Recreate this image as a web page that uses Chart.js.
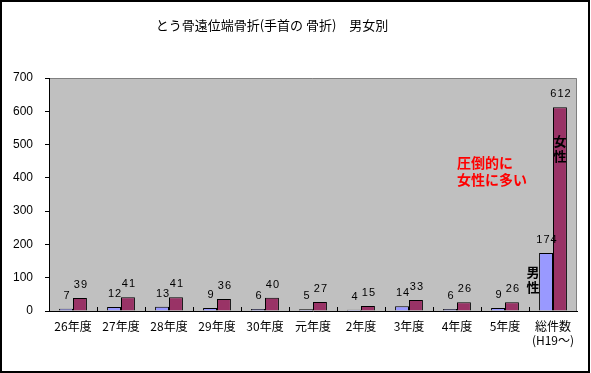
<!DOCTYPE html>
<html>
<head>
<meta charset="utf-8">
<script src="https://cdn.jsdelivr.net/npm/chart.js@4"></script>
<style>
  html, body { margin: 0; padding: 0; background: #fff; }
  canvas { display: block; }
</style>
</head>
<body>
<canvas id="chart" width="591" height="373"></canvas>
<script>
// data
const categories = ['26年度', '27年度', '28年度', '29年度', '30年度', '元年度', '2年度', '3年度', '4年度', '5年度', ['総件数', '(H19～)']];
const maleValues = [7, 12, 13, 9, 6, 5, 4, 14, 6, 9, 174];
const femaleValues = [39, 41, 41, 36, 40, 27, 15, 33, 26, 26, 612];
const yTicks = [0, 100, 200, 300, 400, 500, 600, 700];
const titleText = 'とう骨遠位端骨折(手首の 骨折)　男女別';

const JP = '"Noto Sans CJK JP", sans-serif';

// gray plot area + outer frame
const frame = {
  id: 'frame',
  beforeDraw(chart) {
    const { ctx, chartArea: a } = chart;
    ctx.save();
    ctx.fillStyle = '#fff';
    ctx.fillRect(0, 0, chart.width, chart.height);
    ctx.fillStyle = '#C0C0C0';
    ctx.fillRect(a.left, a.top, a.right - a.left, a.bottom - a.top);
    ctx.strokeStyle = '#808080';
    ctx.lineWidth = 1;
    ctx.beginPath();
    ctx.moveTo(a.left, a.top + 0.5);
    ctx.lineTo(a.right - 0.5, a.top + 0.5);
    ctx.lineTo(a.right - 0.5, a.bottom);
    ctx.stroke();
    ctx.restore();
  },
  afterDraw(chart) {
    const { ctx, chartArea: a } = chart;
    const x = chart.scales.x;
    ctx.save();
    // inward tick marks between categories
    ctx.strokeStyle = '#000';
    ctx.lineWidth = 1;
    ctx.beginPath();
    for (let i = 1; i < categories.length; i++) {
      const px = Math.round((x.getPixelForTick(i - 1) + x.getPixelForTick(i)) / 2) + 0.5;
      ctx.moveTo(px, a.bottom);
      ctx.lineTo(px, a.bottom - 4);
    }
    ctx.stroke();
    // outer border
    ctx.strokeStyle = '#000';
    ctx.lineWidth = 2;
    ctx.strokeRect(1, 1, chart.width - 3, chart.height - 2);
    // title
    ctx.fillStyle = '#000';
    ctx.font = '13px ' + JP;
    ctx.textAlign = 'center';
    ctx.textBaseline = 'middle';
    ctx.fillText(titleText, 272, 25);
    ctx.restore();
  }
};

// value labels above bars + annotations
const labels = {
  id: 'labels',
  afterDatasetsDraw(chart) {
    const { ctx } = chart;
    ctx.save();
    ctx.fillStyle = '#000';
    ctx.font = '11px "Liberation Sans", sans-serif';
    ctx.letterSpacing = '1px';
    ctx.textAlign = 'center';
    ctx.textBaseline = 'alphabetic';
    chart.data.datasets.forEach((ds, di) => {
      chart.getDatasetMeta(di).data.forEach((bar, i) => {
        ctx.fillText(String(ds.data[i]), bar.x + 1, bar.y - 10);
      });
    });
    ctx.letterSpacing = '0px';

    const mBar = chart.getDatasetMeta(0).data[categories.length - 1];
    const fBar = chart.getDatasetMeta(1).data[categories.length - 1];
    ctx.font = 'bold 13px ' + JP;
    ctx.textBaseline = 'middle';
    ctx.fillText('男', mBar.x - 13, 272);
    ctx.fillText('性', mBar.x - 13, 287);
    ctx.fillText('女', fBar.x, 141);
    ctx.fillText('性', fBar.x, 156);

    ctx.fillStyle = '#FF0000';
    ctx.font = 'bold 14px ' + JP;
    ctx.textAlign = 'left';
    ctx.fillText('圧倒的に', 457, 163);
    ctx.fillText('女性に多い', 457, 180);
    ctx.restore();
  }
};

new Chart(document.getElementById('chart'), {
  type: 'bar',
  data: {
    labels: categories,
    datasets: [
      {
        label: '男性',
        data: maleValues,
        backgroundColor: '#9999FF',
        borderColor: '#000',
        borderWidth: 1,
        borderSkipped: 'bottom',
        categoryPercentage: 0.58,
        barPercentage: 1
      },
      {
        label: '女性',
        data: femaleValues,
        backgroundColor: '#993366',
        borderColor: '#000',
        borderWidth: 1,
        borderSkipped: 'bottom',
        categoryPercentage: 0.58,
        barPercentage: 1
      }
    ]
  },
  options: {
    responsive: false,
    animation: false,
    devicePixelRatio: 1,
    layout: { padding: { left: 0, top: 78, right: 14, bottom: 0 } },
    plugins: {
      legend: { display: false },
      title: { display: false },
      tooltip: { enabled: false }
    },
    scales: {
      x: {
        grid: { display: false, drawTicks: false },
        border: { color: '#000', width: 1 },
        ticks: {
          color: '#000',
          font: { family: JP, size: 12, lineHeight: 1.2 },
          padding: 8,
          maxRotation: 0,
          autoSkip: false
        },
        afterFit(scale) { scale.height = 62; }
      },
      y: {
        min: 0,
        max: 700,
        afterBuildTicks(scale) { scale.ticks = yTicks.map(v => ({ value: v })); },
        grid: { drawOnChartArea: false, drawTicks: true, tickLength: 4, color: '#000' },
        border: { color: '#000', width: 1 },
        ticks: {
          color: '#000',
          font: { family: '"Liberation Sans", Arial, sans-serif', size: 12 },
          padding: 12
        },
        afterFit(scale) { scale.width = 49; }
      }
    }
  },
  plugins: [frame, labels]
});
</script>
</body>
</html>
